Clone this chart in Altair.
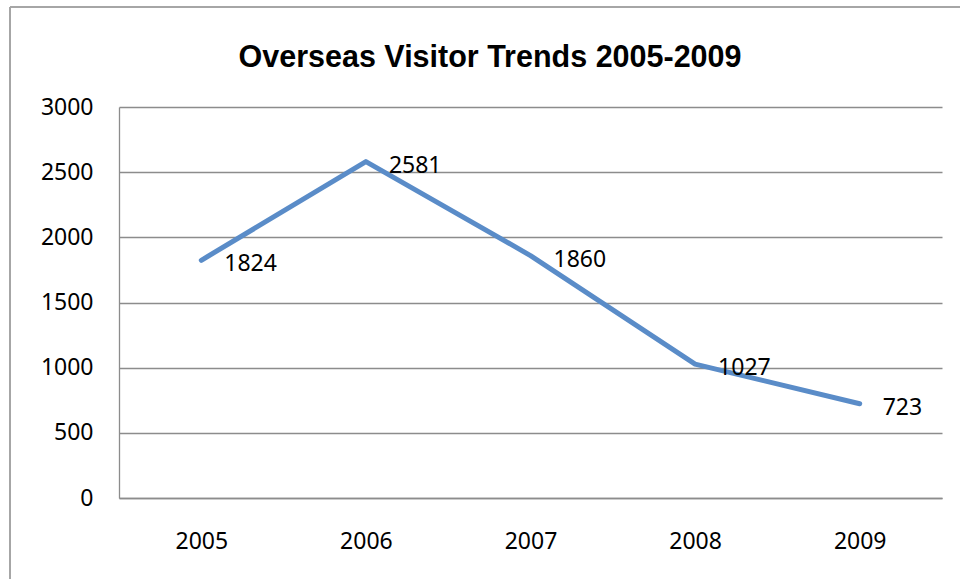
import altair as alt
import pandas as pd

years = ["2005", "2006", "2007", "2008", "2009"]
visitors = [1824, 2581, 1860, 1027, 723]
y_ticks = [0, 500, 1000, 1500, 2000, 2500, 3000]
title_text = "Overseas Visitor Trends 2005-2009"

df = pd.DataFrame({"year": years, "visitors": visitors})
title_df = pd.DataFrame({"t": [title_text]})

LABEL_FONT = "Noto Sans"
GRID = "#8c8c8c"

x_enc = alt.X(
    "year:O",
    sort=years,
    scale=alt.Scale(type="point", padding=0.5),
    axis=alt.Axis(
        title=None, labelAngle=0, ticks=False, grid=False,
        domainColor=GRID, domainWidth=1.3,
        labelFont=LABEL_FONT, labelFontSize=23, labelColor="#000000",
        labelPadding=32,
    ),
)
y_enc = alt.Y(
    "visitors:Q",
    scale=alt.Scale(domain=[0, 3000]),
    axis=alt.Axis(
        title=None, values=y_ticks, ticks=False, format="d",
        gridColor=GRID, gridWidth=1.3, gridOpacity=1,
        domainColor=GRID, domainWidth=1.3,
        labelFont=LABEL_FONT, labelFontSize=23, labelColor="#000000",
        labelPadding=26,
    ),
)

line = alt.Chart(df).mark_line(
    color="#5A8CC8", strokeWidth=5, strokeCap="round", strokeJoin="round"
).encode(x=x_enc, y=y_enc)

labels = alt.Chart(df).mark_text(
    align="left", baseline="middle", dx=23, dy=4,
    font=LABEL_FONT, fontSize=23, color="#000000",
).encode(x=alt.X("year:O", sort=years), y="visitors:Q", text="visitors:Q")

frame_left = alt.Chart(df).mark_rule(color="#a6a6a6", strokeWidth=1.5).encode(
    x=alt.value(-109), y=alt.value(-100), y2=alt.value(500)
)
frame_top = alt.Chart(df).mark_rule(color="#a6a6a6", strokeWidth=1.5).encode(
    x=alt.value(-109), x2=alt.value(900), y=alt.value(-100)
)

title = alt.Chart(title_df).mark_text(
    font="Liberation Sans", fontSize=30.5, fontWeight="bold",
    color="#000000", align="center", baseline="alphabetic",
).encode(text="t:N", x=alt.value(371), y=alt.value(-40))

chart = alt.layer(frame_left, frame_top, line, labels, title).properties(
    width=823,
    height=391,
    padding={"left": 119, "top": 107, "right": 18, "bottom": 81},
    autosize=alt.AutoSizeParams(type="none"),
).configure_view(stroke=None)

chart.save("out.html", embed_options={"renderer": "svg", "actions": False})
